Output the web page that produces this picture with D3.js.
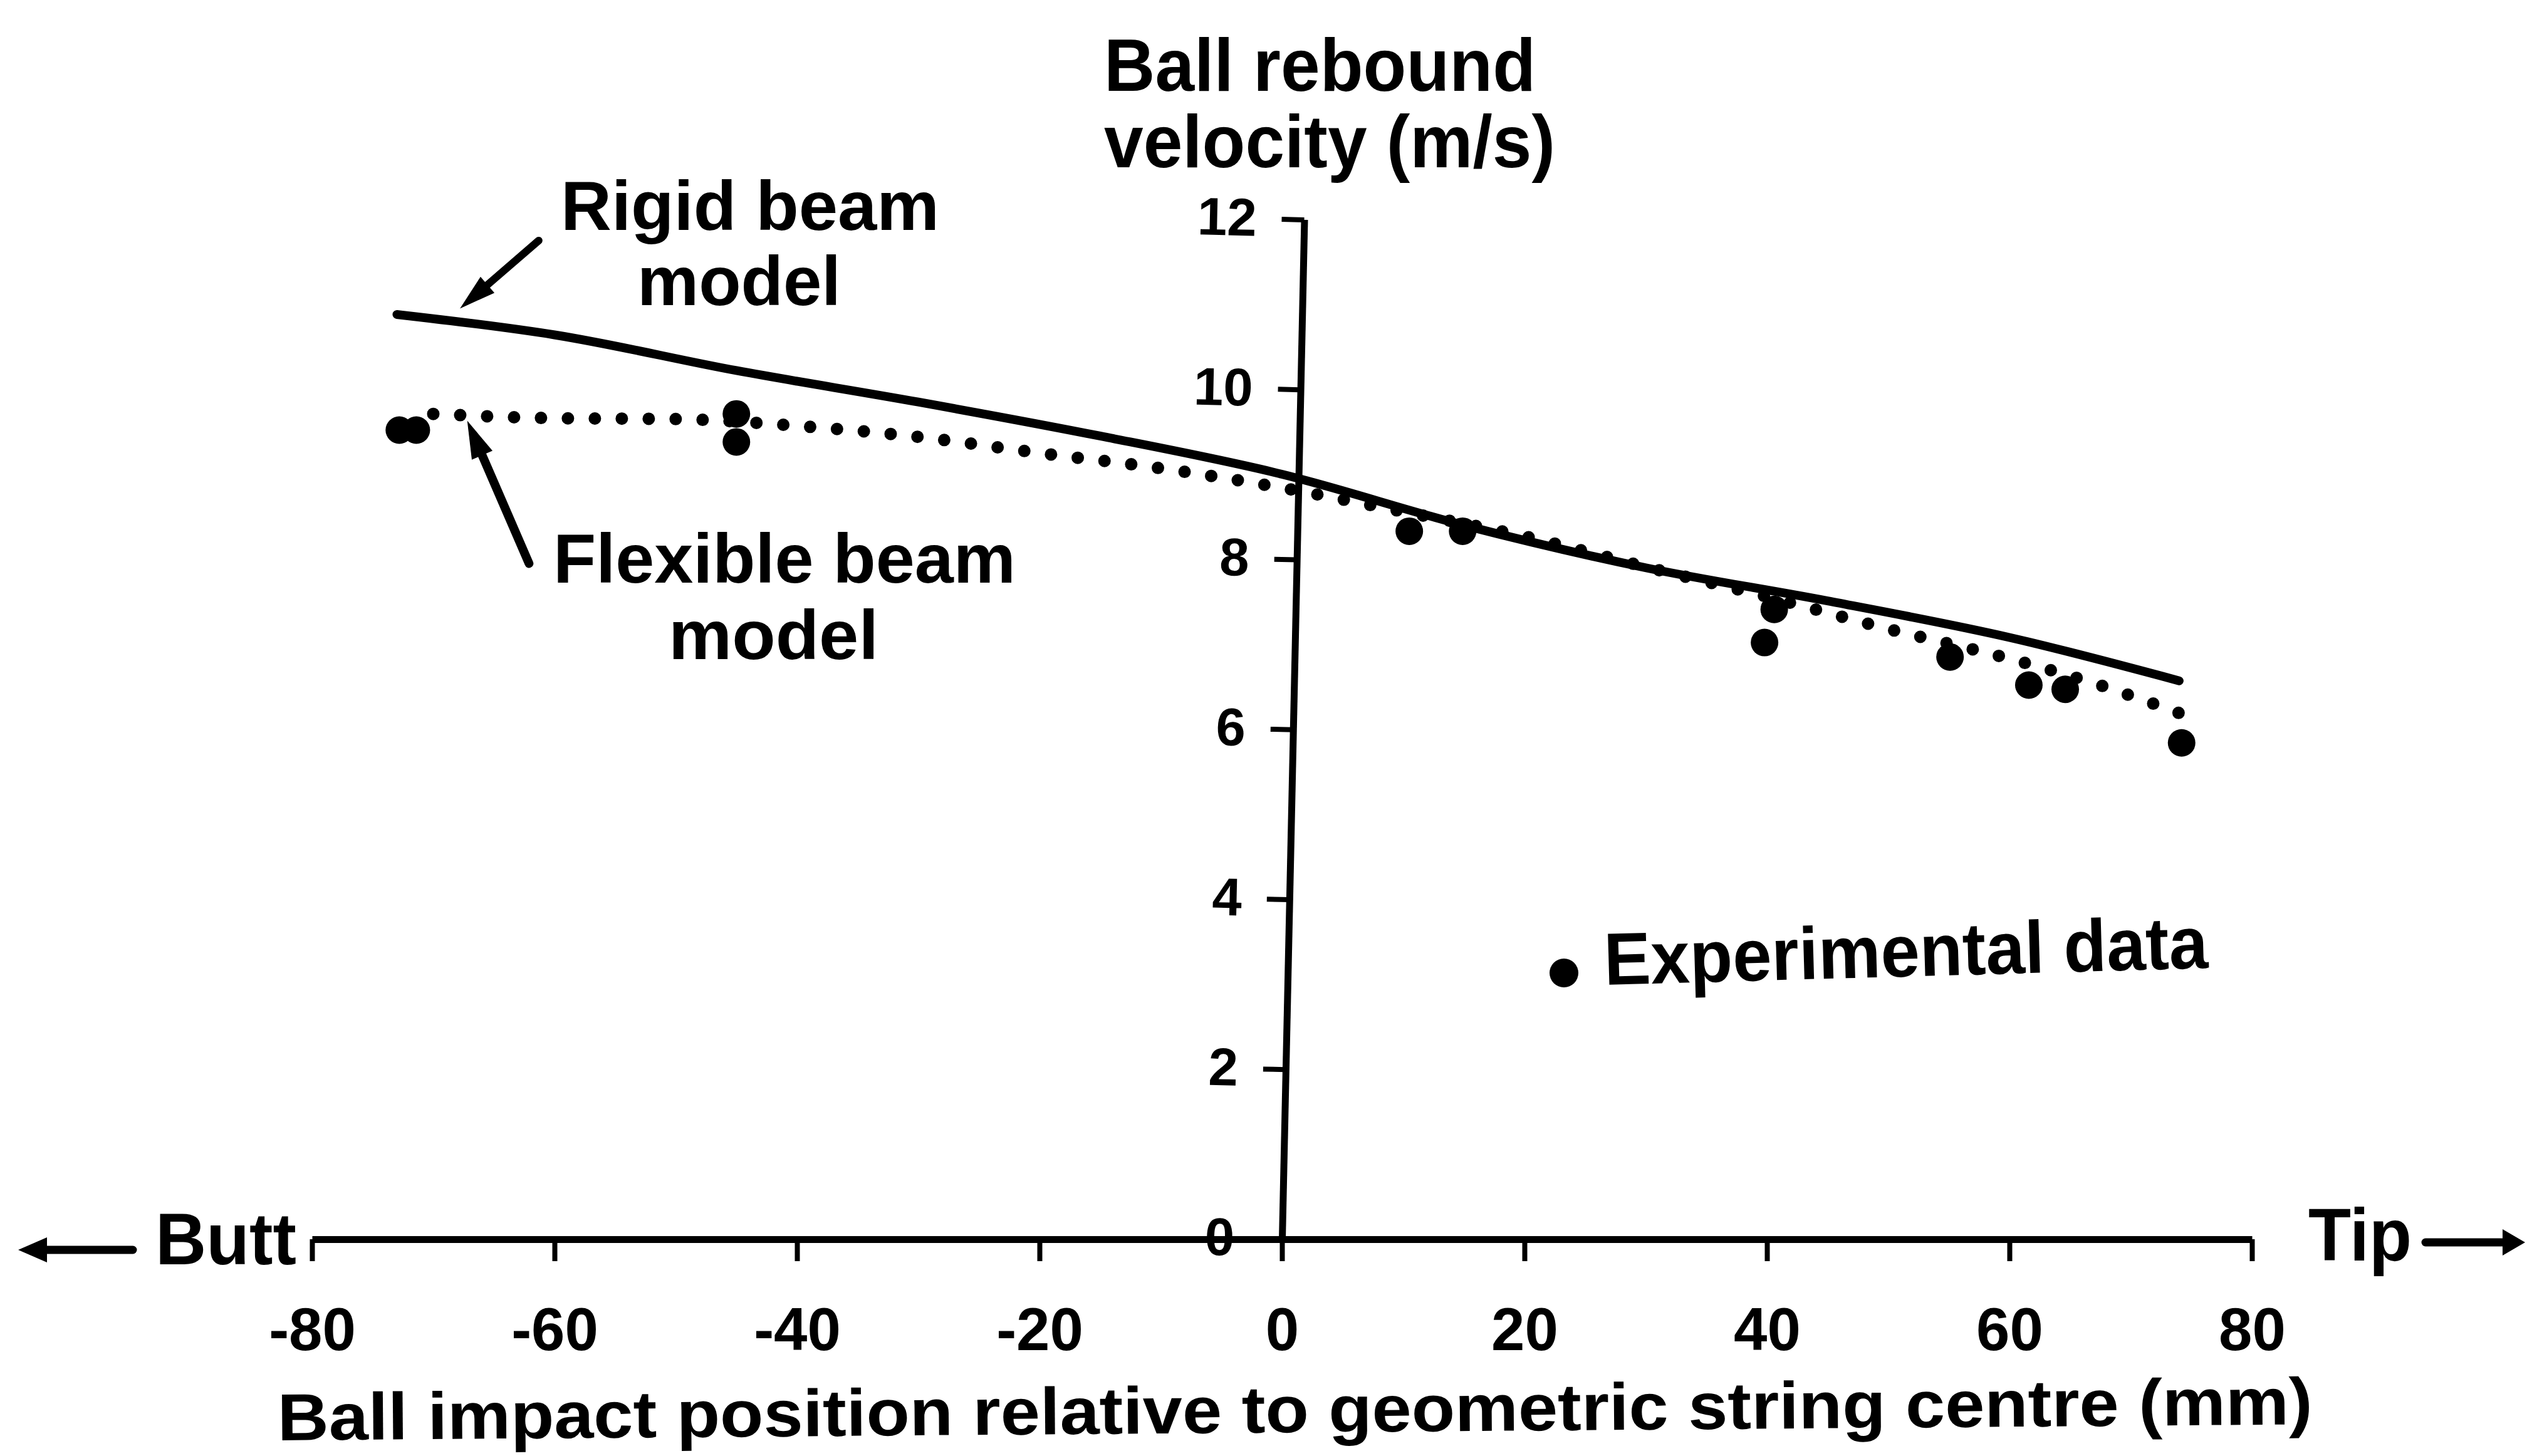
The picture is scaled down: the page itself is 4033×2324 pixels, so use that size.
<!DOCTYPE html>
<html>
<head>
<meta charset="utf-8">
<script src="https://cdn.jsdelivr.net/npm/d3@7"></script>
<style>
  html, body { margin: 0; padding: 0; background: #fff; }
  svg { display: block; }
  text { font-family: "Liberation Sans", Arial, Helvetica, sans-serif; font-weight: bold; fill: #000; }
</style>
</head>
<body>
<svg id="chart" width="4033" height="2324"></svg>
<script>
// Rigid beam model: rebound velocity (m/s) against impact position (mm)
const rigidPos = [-73, -60, -45, -30, -15, 0, 15, 30, 45, 60, 74];
const rigidVel = [10.88, 10.64, 10.22, 9.85, 9.45, 9.00, 8.40, 7.90, 7.51, 7.08, 6.57];

// Flexible beam model
const flexPos = [-70, -60, -50, -45, -40, -30, -20, -10, 0, 10, 20, 30, 40, 50, 60, 67, 74];
const flexVel = [9.71, 9.66, 9.65, 9.62, 9.57, 9.44, 9.25, 9.07, 8.84, 8.56, 8.27, 7.91, 7.56, 7.18, 6.83, 6.54, 6.19];

// Measured rebound velocities
const expPos = [-72.8, -71.4, -45.0, -45.0, 10.5, 14.9, 39.8, 40.6, 55.1, 61.6, 64.6, 74.2];
const expVel = [9.52, 9.52, 9.71, 9.38, 8.33, 8.33, 7.02, 7.41, 6.85, 6.52, 6.47, 5.84];

// Axis ticks
const xTicks = [-80, -60, -40, -20, 0, 20, 40, 60, 80];
const yTicks = [0, 2, 4, 6, 8, 10, 12];

const svg = d3.select("#chart");

const x = d3.scaleLinear().domain([-80, 80]).range([498, 3594]);
const y = d3.scaleLinear().domain([0, 12]).range([1978, 350]);

// ---- x axis (impact position) ----
const xAxis = d3.axisBottom(x)
  .tickValues(xTicks)
  .tickSize(35)
  .tickSizeOuter(0)
  .tickPadding(74)
  .tickFormat(d => String(d));

const gx = svg.append("g")
  .attr("transform", `translate(0,${y(0)})`)
  .call(xAxis);
gx.select(".domain").attr("stroke", "#000").attr("stroke-width", 11);
gx.selectAll(".tick line").attr("stroke", "#000").attr("stroke-width", 8);
gx.selectAll(".tick text")
  .attr("font-size", 96)
  .style("font-family", '"Liberation Sans", Arial, sans-serif')
  .style("font-weight", "bold")
  .attr("fill", "#000");

// ---- y axis (rebound velocity), leaning slightly like the printed frame ----
const yAxis = d3.axisLeft(y)
  .tickValues(yTicks)
  .tickSize(36)
  .tickSizeOuter(0)
  .tickPadding(40)
  .tickFormat(d => String(d));

const gy = svg.append("g")
  .attr("transform", `rotate(1.25, ${x(0)}, ${y(0)}) translate(${x(0)},0)`)
  .call(yAxis);
gy.select(".domain").attr("stroke", "#000").attr("stroke-width", 11);
gy.selectAll(".tick line").attr("stroke", "#000").attr("stroke-width", 8);
gy.selectAll(".tick text")
  .attr("font-size", 85)
  .style("font-family", '"Liberation Sans", Arial, sans-serif')
  .style("font-weight", "bold")
  .attr("fill", "#000");

// ---- model curves ----
const line = d3.line()
  .x(d => x(d[0]))
  .y(d => y(d[1]))
  .curve(d3.curveMonotoneX);

svg.append("path")
  .datum(rigidPos.map((p, i) => [p, rigidVel[i]]))
  .attr("d", line)
  .attr("fill", "none")
  .attr("stroke", "#000")
  .attr("stroke-width", 14)
  .attr("stroke-linecap", "round");

svg.append("path")
  .datum(flexPos.map((p, i) => [p, flexVel[i]]))
  .attr("d", line)
  .attr("fill", "none")
  .attr("stroke", "#000")
  .attr("stroke-width", 20)
  .attr("stroke-linecap", "round")
  .attr("stroke-dasharray", "0 43");

// ---- experimental points ----
svg.append("g")
  .selectAll("circle")
  .data(expPos.map((p, i) => [p, expVel[i]]))
  .join("circle")
  .attr("cx", d => x(d[0]))
  .attr("cy", d => y(d[1]))
  .attr("r", 22)
  .attr("fill", "#000");

// ---- annotation arrows ----
function arrow(x1, y1, x2, y2, headLen, headHalf, width) {
  const dx = x2 - x1, dy = y2 - y1;
  const len = Math.hypot(dx, dy);
  const ux = dx / len, uy = dy / len;
  const bx = x2 - ux * headLen, by = y2 - uy * headLen;
  svg.append("line")
    .attr("x1", x1).attr("y1", y1)
    .attr("x2", bx + ux * 4).attr("y2", by + uy * 4)
    .attr("stroke", "#000")
    .attr("stroke-width", width)
    .attr("stroke-linecap", "round");
  svg.append("polygon")
    .attr("points", [
      [x2, y2],
      [bx - uy * headHalf, by + ux * headHalf],
      [bx + uy * headHalf, by - ux * headHalf]
    ].map(p => p.join(",")).join(" "))
    .attr("fill", "#000");
}

// pointer to the rigid beam curve
arrow(x(-61.3), y(11.75), x(-67.8), y(10.95), 58, 17, 12);
// pointer to the flexible beam curve
arrow(x(-62.1), y(7.95), x(-67.2), y(9.63), 60, 18, 14);

// direction arrows along the frame
arrow(212, 1995, 29, 1995, 46, 20, 13);
arrow(3871, 1983, 4030, 1983, 36, 21, 13);

// ---- labels ----
function label(str, px, py, size, len, rot) {
  const t = svg.append("text")
    .attr("x", px)
    .attr("y", py)
    .attr("font-size", size)
    .attr("textLength", len)
    .attr("lengthAdjust", "spacingAndGlyphs")
    .text(str);
  if (rot) t.attr("transform", `rotate(${rot}, ${px}, ${py})`);
  return t;
}

// y axis title
label("Ball rebound", 1762, 145, 118, 689);
label("velocity (m/s)", 1762, 267, 118, 720);

// model labels
label("Rigid beam", 895, 367, 112, 604);
label("model", 1017, 487, 112, 325);
label("Flexible beam", 883, 930, 112, 738);
label("model", 1067, 1052, 112, 335);

// legend for the measured points
svg.append("circle").attr("cx", 2496).attr("cy", 1553).attr("r", 23).attr("fill", "#000");
label("Experimental data", 2561, 1572, 118, 964, -1.6);

// racket ends
label("Butt", 248, 2018, 116, 225);
label("Tip", 3684, 2012, 118, 165);

// x axis title
label("Ball impact position relative to geometric string centre (mm)", 443, 2299, 106, 3248, -0.45);
</script>
</body>
</html>
